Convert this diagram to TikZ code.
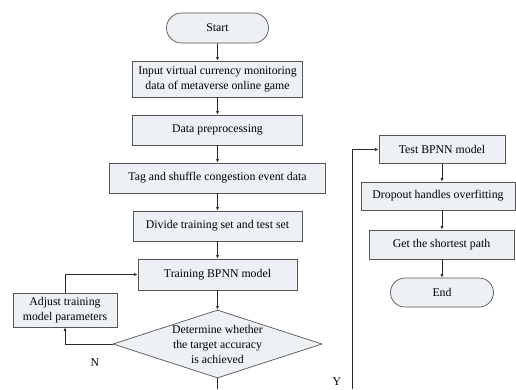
\documentclass[tikz,border=0pt]{standalone}
\usepackage{fontspec}
\setmainfont{Liberation Serif}
\usetikzlibrary{shapes.geometric,shapes.misc,arrows.meta}
\definecolor{boxfill}{RGB}{237,240,245}
\definecolor{boxline}{RGB}{85,85,85}
\definecolor{linecol}{RGB}{40,40,40}
\newcommand\figfont{\fontsize{11.8}{15}\selectfont}
\tikzset{
  box/.style={draw=boxline, fill=boxfill, line width=0.7pt, inner sep=0pt, align=center, font=\figfont},
  term/.style={box, rounded rectangle},
  arrowline/.style={draw=linecol, line width=0.7pt, -{Latex[length=3.5pt,width=3pt]}},
  plainline/.style={draw=linecol, line width=0.7pt},
  lbl/.style={font=\figfont, inner sep=0pt}
}
\begin{document}
\begin{tikzpicture}[x=1pt,y=-1pt]
\useasboundingbox (0,0) rectangle (516,389);
% left column
\node[term, minimum width=102pt, minimum height=30pt] (start) at (217.5,28) {Start};
\node[box, minimum width=170pt, minimum height=36pt] (input) at (217.5,79) {Input virtual currency monitoring\\data of metaverse online game};
\node[box, minimum width=170pt, minimum height=30pt] (prep) at (217.5,130) {Data preprocessing};
\node[box, minimum width=216pt, minimum height=30pt] (tag) at (217.5,178) {Tag and shuffle congestion event data};
\node[box, minimum width=169pt, minimum height=30pt] (divide) at (217.5,226) {Divide training set and test set};
\node[box, minimum width=159pt, minimum height=31pt] (train) at (217.5,274.5) {Training BPNN model};
\node[diamond, draw=boxline, fill=boxfill, line width=0.7pt, inner sep=0pt, minimum width=209pt, minimum height=68pt] (dia) at (217.5,344) {};
\node[lbl, align=center] (diatext) at (dia.center) {Determine whether\\the target accuracy\\is achieved};
\node[box, minimum width=104pt, minimum height=34pt] (adjust) at (65,310) {Adjust training\\model parameters};
% right column
\node[box, minimum width=126pt, minimum height=28pt] (test) at (442,149.5) {Test BPNN model};
\node[box, minimum width=154pt, minimum height=28pt] (dropout) at (438,196) {Dropout handles overfitting};
\node[box, minimum width=145pt, minimum height=29pt] (getpath) at (441.5,244.5) {Get the shortest path};
\node[term, minimum width=103pt, minimum height=29pt] (end) at (442,292.5) {End};
% connectors
\draw[arrowline] (start) -- (input);
\draw[arrowline] (input) -- (prep);
\draw[arrowline] (prep) -- (tag);
\draw[arrowline] (tag) -- (divide);
\draw[arrowline] (divide) -- (train);
\draw[arrowline] (train) -- (dia);
\draw[arrowline] (dia.west) -| (adjust.south);
\draw[arrowline] (adjust.north) |- (train.west);
\coordinate (ybot1) at (217.5,389);
\coordinate (ybot2) at (352,389);
\draw[plainline] (dia.south) -- (ybot1);
\draw[arrowline] (ybot2) |- (test.west);
\draw[arrowline] (test.south) -- (test.south |- dropout.north);
\draw[arrowline] (test.south |- dropout.south) -- (test.south |- getpath.north);
\draw[arrowline] (test.south |- getpath.south) -- (test.south |- end.north);
% labels
\node[lbl] (nlab) at (95,363) {N};
\node[lbl] (ylab) at (337,382) {Y};
\end{tikzpicture}
\end{document}
